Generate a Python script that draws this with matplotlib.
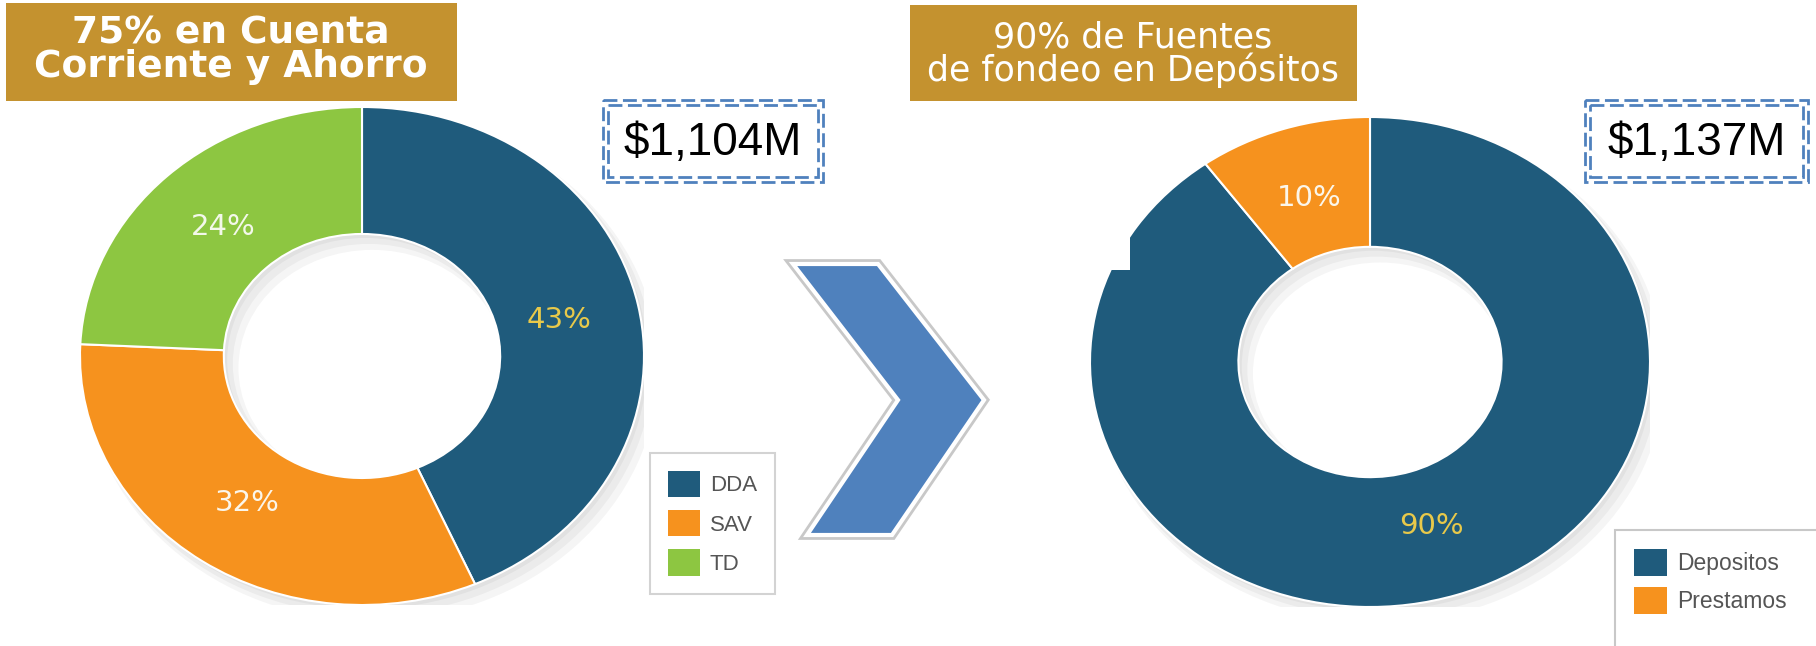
import matplotlib
matplotlib.use("Agg")
import matplotlib.pyplot as plt
import numpy as np
from matplotlib.patches import Rectangle, Polygon, Patch, Wedge

# ---------------- data ----------------
left_title = ["75% en Cuenta", "Corriente y Ahorro"]
right_title = ["90% de Fuentes", "de fondeo en Depósitos"]
left_total = "$1,104M"
right_total = "$1,137M"
left_labels = ["DDA", "SAV", "TD"]
left_values = [43, 32, 24]
right_labels = ["Depositos", "Prestamos"]
right_values = [90, 10]

BLUE = "#1f5b7c"
ORANGE = "#f6921e"
GREEN = "#8dc641"
GOLD = "#c4922f"
left_colors = [BLUE, ORANGE, GREEN]
right_colors = [BLUE, ORANGE]
left_pct_colors = ["#e8c94a", "#fbf6ea", "#f3f8ea"]
right_pct_colors = ["#e8c94a", "#fbf6ea"]

plt.rcParams["lines.scale_dashes"] = False

W, H = 1816, 646
fig = plt.figure(figsize=(W / 100, H / 100), dpi=100)
fig.patch.set_facecolor("white")


def fbox(x0, y0, x1, y1):
    return [x0 / W, 1 - y1 / H, (x1 - x0) / W, (y1 - y0) / H]


# background axes (pixel coordinates)
bg = fig.add_axes([0, 0, 1, 1], zorder=0)
bg.set_xlim(0, W)
bg.set_ylim(H, 0)
bg.axis("off")

# title boxes
bg.add_patch(Rectangle((6, 3), 451, 98, facecolor=GOLD, edgecolor="none"))
bg.add_patch(Rectangle((910, 5), 447, 96, facecolor=GOLD, edgecolor="none"))
for txt, yb in zip(left_title, [43, 77]):
    bg.text(231, yb, txt, ha="center", va="baseline", color="white",
            fontsize=27, fontweight="bold", family="DejaVu Sans")
for txt, yb in zip(right_title, [48, 81]):
    bg.text(1133, yb, txt, ha="center", va="baseline", color="white",
            fontsize=25, family="DejaVu Sans")

# chevron arrow
chev = [(793, 264), (878, 264), (984, 400), (892, 535), (807, 535), (898, 400)]
bg.add_patch(Polygon(chev, closed=True, facecolor="none", edgecolor="#c8c8c8",
                     linewidth=7, joinstyle="miter"))
bg.add_patch(Polygon(chev, closed=True, facecolor="#4f81bd", edgecolor="white",
                     linewidth=3, joinstyle="miter"))


def donut(rect, values, colors, pct_colors, width):
    ax = fig.add_axes(rect, zorder=1)
    # soft shadow
    for k in range(3):
        ax.add_patch(Wedge((0.012 * (k + 1), -0.016 * (k + 1)), 1.0 + 0.008 * k, 0, 360,
                           width=width + 0.016 * k, facecolor="black", alpha=0.04,
                           edgecolor="none"))
    wedges, _ = ax.pie(values, colors=colors, startangle=90, counterclock=False,
                       radius=1, wedgeprops=dict(width=width, edgecolor="white",
                                                 linewidth=1.5))
    ax.set_aspect("auto")
    ax.set_xlim(-1, 1)
    ax.set_ylim(-1, 1)
    ax.axis("off")
    r = 1 - width / 2 - 0.03
    for w, v, c in zip(wedges, values, pct_colors):
        mid = np.deg2rad((w.theta1 + w.theta2) / 2)
        ax.text(r * np.cos(mid), r * np.sin(mid), f"{v}%", ha="center", va="center",
                color=c, fontsize=21, family="DejaVu Sans")
    return ax


donut(fbox(80, 107, 644, 605), left_values, left_colors, left_pct_colors, 0.51)
donut(fbox(1090, 117, 1650, 607), right_values, right_colors, right_pct_colors, 0.53)

# overlay axes
ov = fig.add_axes([0, 0, 1, 1], zorder=3)
ov.set_xlim(0, W)
ov.set_ylim(H, 0)
ov.axis("off")
ov.patch.set_alpha(0)

# white patch cutting right donut
ov.add_patch(Rectangle((1084, 226), 46, 44, facecolor="white", edgecolor="none"))


def total_box(x0, y0, x1, y1, txt):
    for inset in (0, 5):
        ov.add_patch(Rectangle((x0 + inset, y0 + inset), (x1 - x0) - 2 * inset,
                               (y1 - y0) - 2 * inset, facecolor="none",
                               edgecolor="#4f81bd", linewidth=2.0,
                               linestyle=(0, (10, 4))))
    ov.text((x0 + x1) / 2, (y0 + y1) / 2 + 2, txt, ha="center", va="center",
            fontsize=33, family="Liberation Sans", color="black")


total_box(603, 100, 823, 182, left_total)
total_box(1585, 100, 1808, 182, right_total)

# left legend
lh = [Patch(facecolor=c, edgecolor="none") for c in left_colors]
leg1 = fig.legend(lh, left_labels, loc="upper left",
                  bbox_to_anchor=(650 / W, 1 - 453 / H), fontsize=16,
                  frameon=True, fancybox=False, handlelength=1.45,
                  handleheight=1.45, labelspacing=0.58, handletextpad=0.45,
                  borderpad=0.8, borderaxespad=0)
leg1.get_frame().set_edgecolor("#c8c8c8")
leg1.get_frame().set_linewidth(1.5)
for t in leg1.get_texts():
    t.set_color("#555555")
    t.set_family("Liberation Sans")

# right legend (frame runs off the canvas)
ov.add_patch(Rectangle((1615, 530), 260, 160, facecolor="white",
                       edgecolor="#c8c8c8", linewidth=1.5))
rh = [Patch(facecolor=c, edgecolor="none") for c in right_colors]
leg2 = fig.legend(rh, right_labels, loc="upper left",
                  bbox_to_anchor=(1615 / W, 1 - 530 / H), fontsize=16.5,
                  frameon=False, handlelength=1.4,
                  handleheight=1.4, labelspacing=0.5, handletextpad=0.45,
                  borderpad=0.85, borderaxespad=0)
for t in leg2.get_texts():
    t.set_color("#555555")
    t.set_family("Liberation Sans")

fig.savefig("out.png", dpi=100, facecolor="white")
